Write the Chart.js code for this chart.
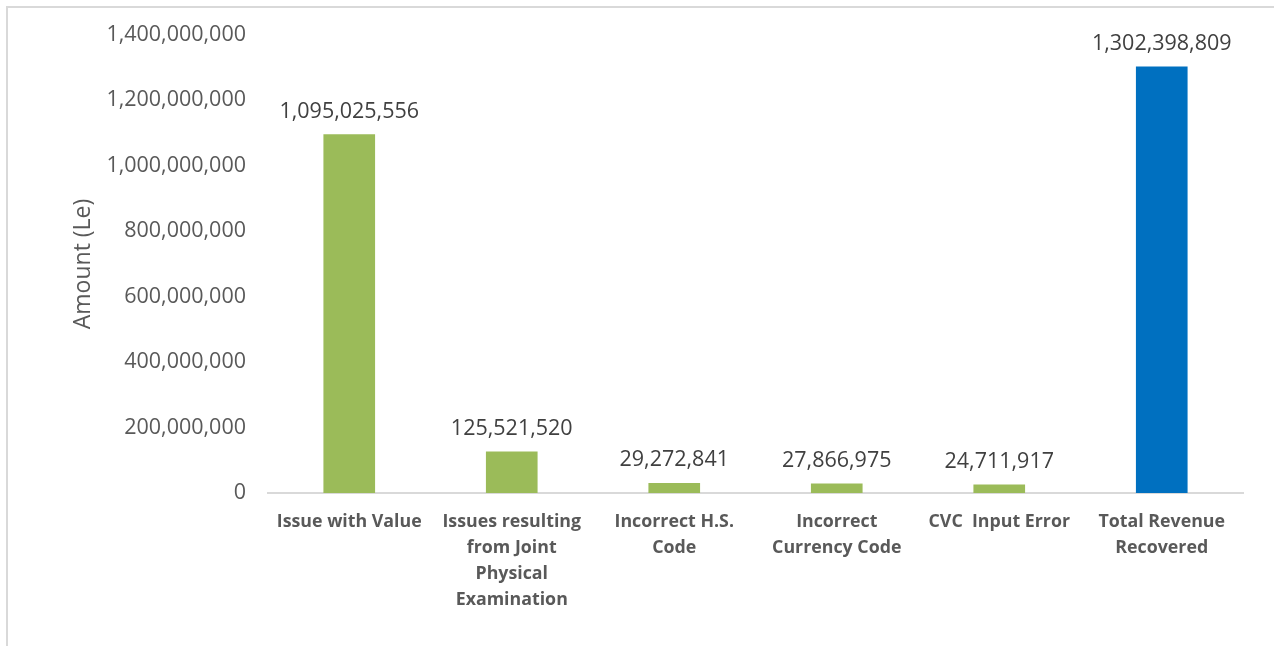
<!DOCTYPE html>
<html>
<head>
<meta charset="utf-8">
<script src="https://cdn.jsdelivr.net/npm/chart.js@4/dist/chart.umd.min.js"></script>
<style>
  html, body { margin: 0; padding: 0; background: #fff; }
  #frame {
    position: absolute; left: 6px; top: 6px; width: 1280px; height: 660px;
    border-top: 2px solid #d9d9d9; border-left: 2px solid #d9d9d9;
  }
  #wrap { position: absolute; left: 0; top: 0; width: 1274px; height: 646px; }
</style>
</head>
<body>
<div id="frame"></div>
<div id="wrap"><canvas id="chart"></canvas></div>
<script>
const categories = [
  'Issue with Value',
  ['Issues resulting', 'from Joint', 'Physical', 'Examination'],
  ['Incorrect H.S.', 'Code'],
  ['Incorrect', 'Currency Code'],
  'CVC  Input Error',
  ['Total Revenue', 'Recovered']
];
const amounts = [1095025556, 125521520, 29272841, 27866975, 24711917, 1302398809];
const barColors = ['#9bbb59', '#9bbb59', '#9bbb59', '#9bbb59', '#9bbb59', '#0070c0'];
const yTicks = [0, 200000000, 400000000, 600000000, 800000000, 1000000000, 1200000000, 1400000000];

const fmt = v => v.toLocaleString('en-US');

const valueLabels = {
  id: 'valueLabels',
  afterDatasetsDraw(chart) {
    const ctx = chart.ctx;
    const meta = chart.getDatasetMeta(0);
    ctx.save();
    ctx.font = "21.5px 'Open Sans'";
    ctx.fillStyle = '#404040';
    ctx.textAlign = 'center';
    ctx.textBaseline = 'alphabetic';
    meta.data.forEach((bar, i) => {
      ctx.fillText(fmt(amounts[i]), bar.x, bar.y - 17);
    });
    ctx.restore();
  }
};

new Chart(document.getElementById('chart').getContext('2d'), {
  type: 'bar',
  data: {
    labels: categories,
    datasets: [{
      data: amounts,
      backgroundColor: barColors,
      borderWidth: 0,
      barThickness: 51
    }]
  },
  options: {
    responsive: true,
    maintainAspectRatio: false,
    animation: false,
    layout: { padding: { left: 70, top: 33, right: 31, bottom: 0 } },
    plugins: {
      legend: { display: false },
      tooltip: { enabled: false }
    },
    scales: {
      y: {
        min: 0,
        max: 1400000000,
        afterBuildTicks: axis => { axis.ticks = yTicks.map(v => ({ value: v })); },
        afterFit: axis => { axis.width = 268 - 70; },
        grid: { display: false, drawTicks: false },
        border: { display: false },
        title: {
          display: true,
          text: 'Amount (Le)',
          font: { size: 23, family: "'Open Sans'" },
          color: '#595959',
          padding: 0
        },
        ticks: {
          callback: v => fmt(v),
          font: { size: 21.5, family: "'Open Sans'" },
          color: '#595959',
          padding: 22
        }
      },
      x: {
        afterFit: axis => { axis.height = 646 - 493; },
        grid: { display: false, drawTicks: false },
        border: { display: true, color: '#d9d9d9', width: 2 },
        ticks: {
          autoSkip: false,
          maxRotation: 0,
          font: { size: 17.8, family: "'Open Sans'", weight: 'bold', lineHeight: 1.46 },
          color: '#595959',
          padding: 16
        }
      }
    }
  },
  plugins: [valueLabels]
});
</script>
</body>
</html>
